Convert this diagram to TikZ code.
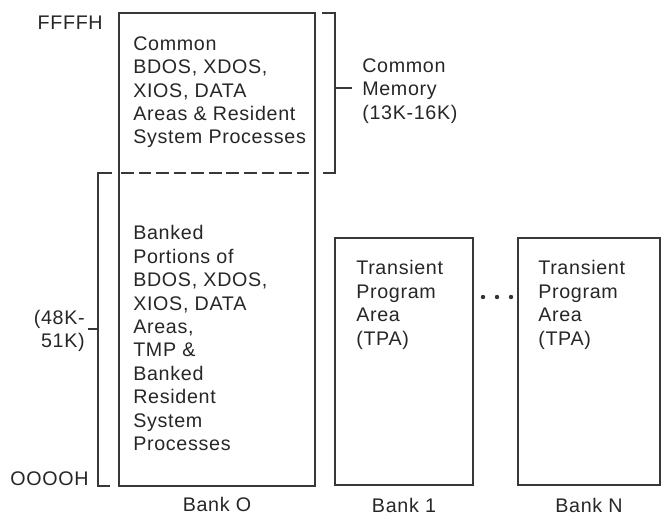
\documentclass[tikz,border=0pt]{standalone}
\usepackage{fontspec}
\setmainfont[LetterSpace=3.5]{Liberation Sans}
\usetikzlibrary{positioning}

\tikzset{
	memline/.style={line width=1.6pt, color=black!78},
	memtext/.style={align=left, inner sep=0pt, text=black!85, font=\fontsize{14}{16.7}\selectfont},
}

\begin{document}
\begin{tikzpicture}[x=0.025cm, y=-0.025cm]
		%%%%% START %%%%%
		\useasboundingbox (0,0) rectangle (666,516);
		
		% bank O
		\draw[memline] (119,13) rectangle (315,486);
		\draw[memline, dash pattern=on 9pt off 3.5pt] (121,173) -- (313,173);
		
		\node[memtext, anchor=north west] (common) at (133,36) {Common\\BDOS, XDOS,\\XIOS, DATA\\Areas \& Resident\\System Processes};
		\node[memtext, anchor=north west] (banked) at (133,225) {Banked\\Portions of\\BDOS, XDOS,\\XIOS, DATA\\Areas,\\TMP \&\\Banked\\Resident\\System\\Processes};
		
		% brackets
		\draw[memline] (322,13) -- (335,13) -- (335,173) -- (323,173);
		\draw[memline] (335,88) -- (352,88);
		\node[memtext, anchor=north west] (cmem) at (362,58) {Common\\Memory\\(13K-16K)};
		
		\draw[memline] (112,173) -- (98,173) -- (98,486) -- (110,486);
		\draw[memline] (88,329) -- (98,329);
		\node[memtext, align=right, anchor=east] (bsize) at (85,331) {(48K-\\51K)};
		
		\node[memtext, anchor=east] (top) at (103,23) {FFFFH};
		\node[memtext, anchor=east] (bottom) at (89,479) {OOOOH};
		
		% bank 1 .. bank N
		\draw[memline] (335,238) rectangle (473,485);
		\node[memtext, anchor=north west] (tpa1) at (356,260) {Transient\\Program\\Area\\(TPA)};
		
		\foreach \x in {483,497,511}
			\fill[black!80] (\x,297) circle (0.055cm);
		
		\draw[memline] (518,238) rectangle (660,485);
		\node[memtext, anchor=north west] (tpan) at (538,260) {Transient\\Program\\Area\\(TPA)};
		
		\node[memtext] (bank0) at (217,504) {Bank O};
		\node[memtext] (bank1) at (404,505) {Bank 1};
		\node[memtext] (bankn) at (589,505) {Bank N};
		
		%%%%% END %%%%%
	\end{tikzpicture}
\end{document}
